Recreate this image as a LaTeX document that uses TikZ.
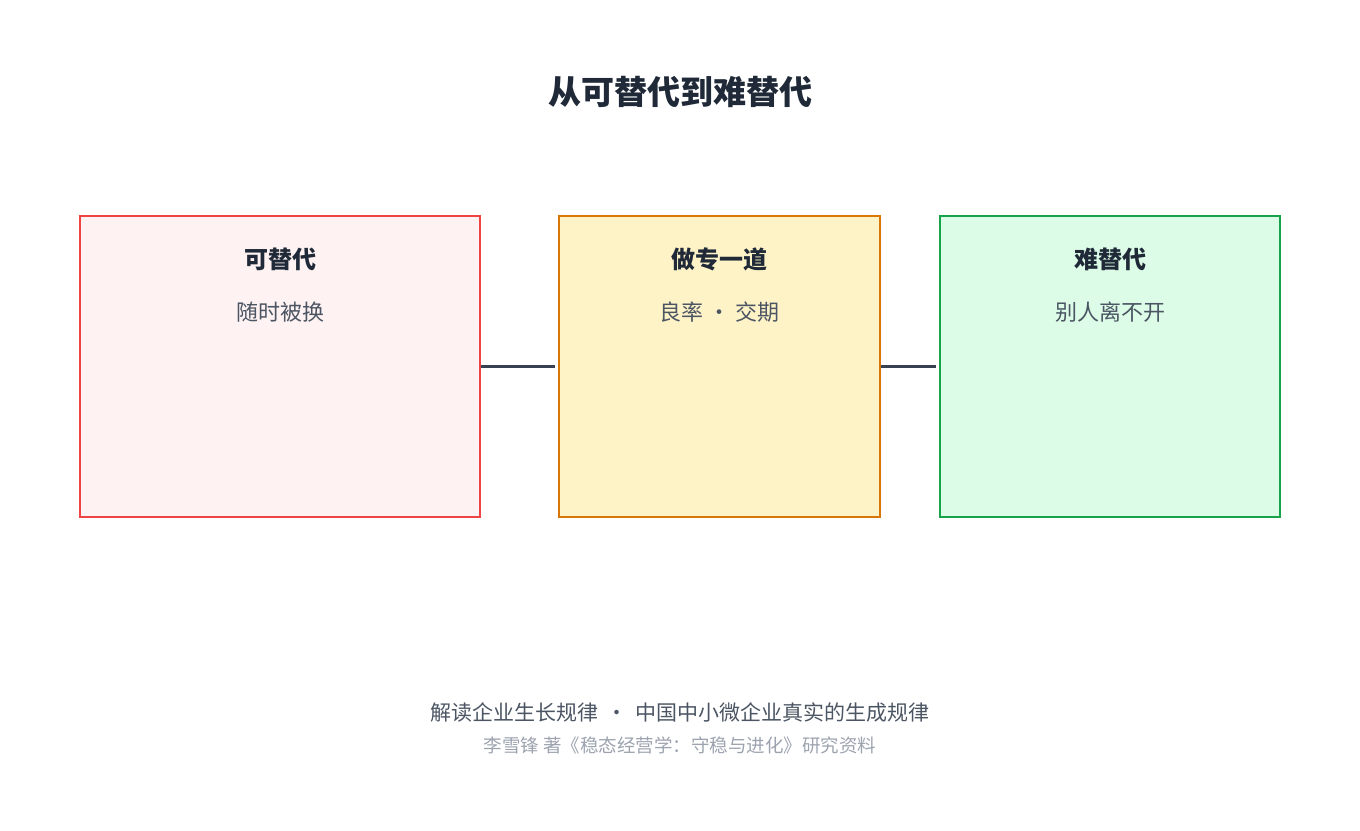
\documentclass[tikz,border=0pt]{standalone}
\usepackage{fontspec}
\setmainfont{Noto Sans CJK SC}
\newfontfamily\cjkb{Noto Sans CJK SC}[FakeBold=2]
\begin{document}
\definecolor{dark}{HTML}{1F2937}
\definecolor{mid}{HTML}{4B5563}
\definecolor{light}{HTML}{9CA3AF}
\definecolor{line}{HTML}{374151}
\begin{tikzpicture}[x=1pt,y=-1pt,
  box/.style={draw,line width=2.5pt,inner sep=0pt},
  ttl/.style={text=dark,font=\fontsize{24}{28}\selectfont\bfseries},
  sub/.style={text=mid,font=\fontsize{22}{26}\selectfont},
  conn/.style={draw=line,line width=3pt}]
\useasboundingbox (0,0) rectangle (1360,830);
\node[text=dark,font=\fontsize{33}{38}\selectfont\bfseries] (title) at (680,92) {从可替代到难替代};
\node[box,draw=red!70!white,draw={rgb,255:red,239;green,68;blue,68},fill={rgb,255:red,254;green,242;blue,242},minimum width=400pt,minimum height=301pt] (a) at (280,366.5) {};
\node[box,draw={rgb,255:red,217;green,119;blue,6},fill={rgb,255:red,254;green,243;blue,199},minimum width=321pt,minimum height=301pt] (b) at (719.5,366.5) {};
\node[box,draw={rgb,255:red,22;green,163;blue,74},fill={rgb,255:red,220;green,252;blue,231},minimum width=340pt,minimum height=301pt] (c) at (1110,366.5) {};
\node[ttl] (at) at (280,259) {可替代};
\node[sub] (as) at (280,312) {随时被换};
\node[ttl] (bt) at (719.5,259) {做专一道};
\node[sub] (bs) at (719.5,312) {良率 • 交期};
\node[ttl] (ct) at (1110,259) {难替代};
\node[sub] (cs) at (1110,312) {别人离不开};
\draw[conn] (a.east) -- ([xshift=-3pt]b.west);
\draw[conn] (b.east) -- ([xshift=-3pt]c.west);
\node[text=mid,font=\fontsize{21}{25}\selectfont] (f1) at (680,712) {解读企业生长规律 \,•\, 中国中小微企业真实的生成规律};
\node[text=light,font=\fontsize{18.5}{22}\selectfont] (f2) at (680,745) {李雪锋 著《稳态经营学：守稳与进化》研究资料};
\end{tikzpicture}
\end{document}
